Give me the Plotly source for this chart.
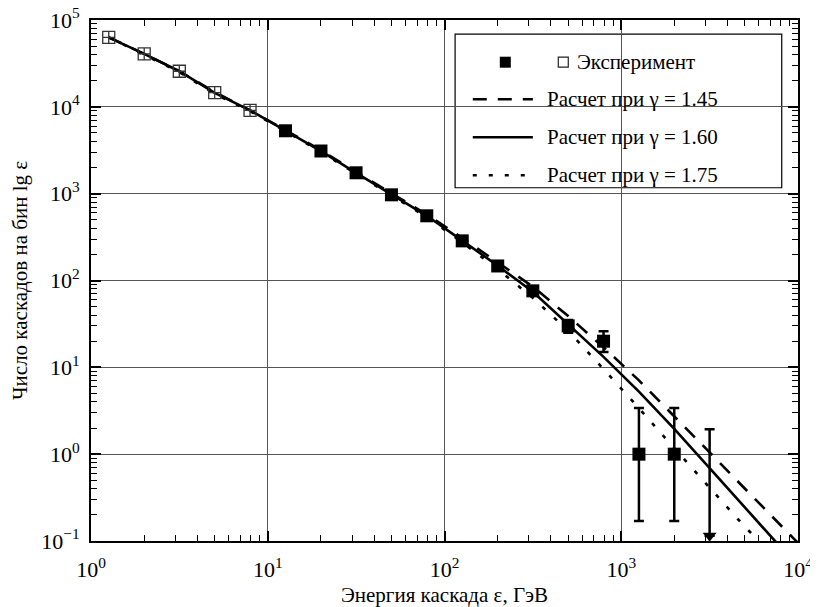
import plotly.graph_objects as go

# ---------------- data ----------------
open_E = [1.26, 2.0, 3.16, 5.01, 7.94]
open_N = [63100, 40700, 25700, 14600, 9100]

filled_E = [12.6, 20.0, 31.6, 50.1, 79.4, 126, 200, 316, 501, 794, 1259, 1995]
filled_N = [5300, 3100, 1740, 970, 556, 286, 147, 76, 30, 20, 1, 1]
filled_err_plus = [0, 0, 0, 0, 0, 0, 0, 0, 5, 6, 2.4, 2.4]
filled_err_minus = [0, 0, 0, 0, 0, 0, 0, 0, 5, 5, 0.83, 0.83]

limit_E = [3162]
limit_N = [1.94]
limit_floor = [0.115]

curve_E = [1.26, 2.0, 3.16, 5.01, 7.94, 12.6, 20.0, 31.6, 50.1, 79.4, 126, 200,
           316, 501, 794, 1259, 1995, 3162, 5012]
g145_N = [63100, 40700, 25700, 14800, 9120, 5370, 3162, 1778, 1000, 575, 309, 162,
          85.1, 38.9, 17.0, 7.08, 2.69, 1.05, 0.40]
g145_tail_E = [7943, 10000]
g145_tail_N = [0.151, 0.095]
g160_N = [63100, 40700, 25700, 14450, 9120, 5370, 3090, 1738, 977, 556, 288, 148,
          74.1, 31.6, 13.2, 5.25, 1.95, 0.69, 0.245]
g160_tail_E = [7586]
g160_tail_N = [0.095]
g175_N = [63100, 40000, 25100, 14100, 8910, 5250, 3020, 1698, 955, 537, 275, 135,
          63.1, 26.3, 9.55, 3.39, 1.17, 0.41, 0.145]
g175_tail_E = [6026]
g175_tail_N = [0.1]

x_tickvals = [1, 10, 100, 1000, 10000]
x_ticktext = ["10<sup>0</sup>", "10<sup>1</sup>", "10<sup>2</sup>", "10<sup>3</sup>", "10<sup>4</sup>"]
y_tickvals = [0.1, 1, 10, 100, 1000, 10000, 100000]
y_ticktext = ["10<sup>\u22121</sup>", "10<sup>0</sup>", "10<sup>1</sup>", "10<sup>2</sup>",
              "10<sup>3</sup>", "10<sup>4</sup>", "10<sup>5</sup>"]

legend_labels = ["Эксперимент", "Расчет при γ = 1.45", "Расчет при γ = 1.60", "Расчет при γ = 1.75"]

# ---------------- figure ----------------
FONT = "Liberation Serif, Times New Roman, serif"
fig = go.Figure()

line_w = 2.6
fig.add_trace(go.Scatter(x=curve_E + g145_tail_E, y=g145_N + g145_tail_N, mode="lines",
                         line=dict(color="black", width=line_w, dash="14px,11px"),
                         showlegend=False))
fig.add_trace(go.Scatter(x=curve_E + g175_tail_E, y=g175_N + g175_tail_N, mode="lines",
                         line=dict(color="black", width=line_w, dash="4px,12px"),
                         showlegend=False))
fig.add_trace(go.Scatter(x=curve_E + g160_tail_E, y=g160_N + g160_tail_N, mode="lines",
                         line=dict(color="black", width=line_w),
                         showlegend=False))

fig.add_trace(go.Scatter(x=open_E, y=open_N, mode="markers",
                         marker=dict(symbol="square-cross-open", size=12, color="#333333",
                                     line=dict(width=1.3, color="#333333")),
                         showlegend=False))

fig.add_trace(go.Scatter(x=filled_E, y=filled_N, mode="markers",
                         marker=dict(symbol="square", size=13, color="black"),
                         error_y=dict(type="data", symmetric=False, array=filled_err_plus,
                                      arrayminus=filled_err_minus, color="black",
                                      thickness=2.5, width=5),
                         showlegend=False))

# upper limit with arrow
fig.add_trace(go.Scatter(x=limit_E, y=limit_N, mode="markers",
                         marker=dict(size=1, color="rgba(0,0,0,0)"),
                         error_y=dict(type="data", symmetric=False, array=[0],
                                      arrayminus=[limit_N[0] - limit_floor[0]], color="black",
                                      thickness=2.5, width=5),
                         showlegend=False))
fig.add_trace(go.Scatter(x=limit_E, y=limit_floor, mode="markers",
                         marker=dict(symbol="triangle-down", size=12, color="black"),
                         showlegend=False))

# ---------------- manual legend ----------------
row_y = [0.919, 0.848, 0.775, 0.702]
fig.add_shape(type="rect", xref="paper", yref="paper", x0=0.515, x1=0.977, y0=0.678, y1=0.973,
              line=dict(color="black", width=1.2), fillcolor="white", layer="between")
fig.add_trace(go.Scatter(x=[0.586], y=[row_y[0]], xaxis="x2", yaxis="y2", mode="markers",
                         marker=dict(symbol="square", size=11, color="black"), showlegend=False))
fig.add_trace(go.Scatter(x=[0.668], y=[row_y[0]], xaxis="x2", yaxis="y2", mode="markers",
                         marker=dict(symbol="square-open", size=10, color="#222",
                                     line=dict(width=1.2)), showlegend=False))
fig.add_annotation(x=0.685, y=row_y[0], xref="paper", yref="paper", text=legend_labels[0],
                   showarrow=False, xanchor="left", yanchor="middle",
                   font=dict(family=FONT, size=21, color="black"))
dashes = ["14px,11px", "solid", "4px,12px"]
for i, d in enumerate(dashes):
    y = row_y[i + 1]
    fig.add_shape(type="line", xref="paper", yref="paper", x0=0.540, x1=0.625, y0=y, y1=y,
                  line=dict(color="black", width=line_w, dash=d))
    fig.add_annotation(x=0.642, y=y, xref="paper", yref="paper", text=legend_labels[i + 1],
                       showarrow=False, xanchor="left", yanchor="middle",
                       font=dict(family=FONT, size=21, color="black"))

axis_common = dict(
    type="log", showline=True, linecolor="black", linewidth=2, mirror="allticks",
    ticks="inside", ticklen=10, tickwidth=1.5, tickcolor="black",
    showgrid=True, gridcolor="#555555", gridwidth=1,
    tickfont=dict(family=FONT, size=22, color="black"),
    minor=dict(ticks="inside", ticklen=6, tickwidth=1.2, tickcolor="black",
               dtick="D1", showgrid=False),
    zeroline=False, automargin=False, ticklabeloverflow="allow",
)

fig.update_layout(
    width=810, height=599,
    margin=dict(l=83, r=20, t=12, b=66),
    paper_bgcolor="white", plot_bgcolor="white",
    font=dict(family=FONT, color="black"),
    xaxis=dict(axis_common, range=[0, 4], tickvals=x_tickvals, ticktext=x_ticktext,
               ticklabelstandoff=8,
               title=dict(text="Энергия каскада ε, ГэВ", font=dict(family=FONT, size=21),
                          standoff=10)),
    yaxis=dict(axis_common, range=[-1, 5], tickvals=y_tickvals, ticktext=y_ticktext,
               ticklabelstandoff=5,
               title=dict(text="Число каскадов на бин lg ε", font=dict(family=FONT, size=21),
                          standoff=8)),
    xaxis2=dict(overlaying="x", range=[0, 1], visible=False, fixedrange=True),
    yaxis2=dict(overlaying="y", range=[0, 1], visible=False, fixedrange=True),
    showlegend=False,
)

fig.write_html("out.html")
